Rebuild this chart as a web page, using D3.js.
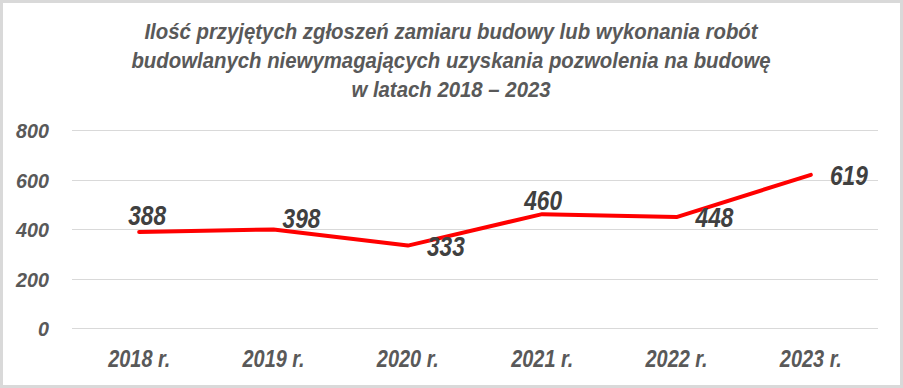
<!DOCTYPE html>
<html><head><meta charset="utf-8">
<script src="https://cdn.jsdelivr.net/npm/d3@7"></script>
<style>
html,body{margin:0;padding:0;background:#fff;}
text{font-family:"Liberation Sans",Arial,sans-serif;font-weight:bold;font-style:italic;}
</style></head>
<body><svg id="c" width="903" height="388"></svg>
<script>
const categories = ["2018 r.","2019 r.","2020 r.","2021 r.","2022 r.","2023 r."];
const values = [388, 398, 333, 460, 448, 619];
const yTicks = [0, 200, 400, 600, 800];
const titleLines = ["Ilość przyjętych zgłoszeń zamiaru budowy lub wykonania robót",
  "budowlanych niewymagających uzyskania pozwolenia na budowę",
  "w latach 2018 – 2023"];
// label placement: dx, dy offsets relative to point
const labelPos = [[8,-7],[28,-1],[38,10],[1,-4],[38,10],[38,10]];

const svg = d3.select("#c");
const W=903,H=388;
svg.append("rect").attr("x",1.5).attr("y",1.5).attr("width",W-3).attr("height",H-3)
  .attr("fill","#fff").attr("stroke","#d9d9d9").attr("stroke-width",3);

const m={left:72,right:25};
const x=d3.scaleBand().domain(categories).range([m.left,W-m.right]);
const y=d3.scaleLinear().domain([0,800]).range([328,130]);
const cx=i=>x(categories[i])+x.bandwidth()/2;

svg.append("g").selectAll("line").data(yTicks).join("line")
  .attr("x1",m.left).attr("x2",W-m.right)
  .attr("y1",d=>Math.round(y(d))+0.5).attr("y2",d=>Math.round(y(d))+0.5)
  .attr("stroke","#d9d9d9").attr("stroke-width",1);

const ya=svg.append("g").attr("transform",`translate(${m.left},0)`)
  .call(d3.axisLeft(y).tickValues(yTicks).tickSize(0));
ya.attr("font-family",null).attr("font-size",null);
ya.select(".domain").remove();
ya.selectAll("text").attr("x",null).attr("dy","0.36em")
  .attr("transform","translate(-23,0) scale(0.94,1)")
  .attr("font-size",21).attr("fill","#595959");

const xa=svg.append("g").attr("transform",`translate(0,328)`)
  .call(d3.axisBottom(x).tickSize(0));
xa.attr("font-family",null).attr("font-size",null);
xa.select(".domain").remove();
xa.selectAll("text").attr("y",null).attr("dy",null)
  .attr("transform","translate(0,39) scale(0.83,1)")
  .attr("font-size",24).attr("fill","#595959");

svg.append("path").datum(values)
  .attr("d",d3.line().x((d,i)=>cx(i)).y(d=>y(d)))
  .attr("fill","none").attr("stroke","#ff0000").attr("stroke-width",4)
  .attr("stroke-linejoin","round").attr("stroke-linecap","round");

svg.append("g").selectAll("text").data(values).join("text")
  .attr("transform",(d,i)=>`translate(${cx(i)+labelPos[i][0]},${y(d)+labelPos[i][1]}) scale(0.81,1)`)
  .attr("text-anchor","middle").attr("font-size",28).attr("fill","#404040")
  .text(d=>d);

svg.append("g").selectAll("text").data(titleLines).join("text")
  .attr("transform",(d,i)=>`translate(451,${39+i*29}) scale(0.926,1)`)
  .attr("text-anchor","middle")
  .attr("font-size",22).attr("fill","#595959").text(d=>d);
</script></body></html>
